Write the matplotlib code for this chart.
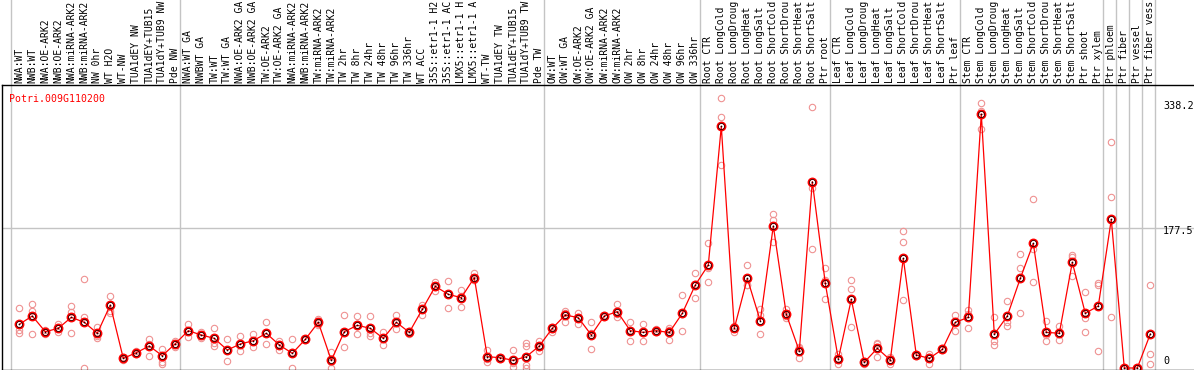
import matplotlib
matplotlib.use("Agg")
import matplotlib.pyplot as plt

gene = "Potri.009G110200"

labels = [
    "NWA:WT", "NWB:WT", "NWA:OE-ARK2", "NWB:OE-ARK2", "NWA:miRNA-ARK2", "NWB:miRNA-ARK2",
    "NW 0hr", "WT H2O", "WT-NW", "TUA1dEY NW", "TUA1dEY+TUB15", "TUA1dY+TUB9 NW", "Pde NW",
    "NWA:WT GA", "NWBWT GA", "TW:WT", "TW:WT GA", "NWA:OE-ARK2 GA", "NWB:OE-ARK2 GA",
    "TW:OE-ARK2", "TW:OE-ARK2 GA", "NWA:miRNA-ARK2", "NWB:miRNA-ARK2", "TW:miRNA-ARK2",
    "TW:miRNA-ARK2", "TW 2hr", "TW 8hr", "TW 24hr", "TW 48hr", "TW 96hr", "TW 336hr",
    "WT ACC", "35S::etr1-1 H2", "35S::etr1-1 AC", "LMX5::etr1-1 H", "LMX5::etr1-1 A",
    "WT-TW", "TUA1dEY TW", "TUA1dEY+TUB15", "TUA1dY+TUB9 TW", "Pde TW",
    "OW:WT", "OW:WT GA", "OW:OE-ARK2", "OW:OE-ARK2 GA", "OW:miRNA-ARK2", "OW:miRNA-ARK2",
    "OW 2hr", "OW 8hr", "OW 24hr", "OW 48hr", "OW 96hr", "OW 336hr",
    "Root CTR", "Root LongCold", "Root LongDroug", "Root LongHeat", "Root LongSalt",
    "Root ShortCold", "Root ShortDrou", "Root ShortHeat", "Root ShortSalt", "Ptr root",
    "Leaf CTR", "Leaf LongCold", "Leaf LongDroug", "Leaf LongHeat", "Leaf LongSalt",
    "Leaf ShortCold", "Leaf ShortDrou", "Leaf ShortHeat", "Leaf ShortSalt", "Ptr leaf",
    "Stem CTR", "Stem LongCold", "Stem LongDroug", "Stem LongHeat", "Stem LongSalt",
    "Stem ShortCold", "Stem ShortDrou", "Stem ShortHeat", "Stem ShortSalt", "Ptr shoot",
    "Ptr xylem", "Ptr phloem", "Ptr fiber", "Ptr vessel", "Ptr fiber vess",
]

means = [
    55.4, 65.9, 46.0, 50.3, 64.2, 57.9, 44.0, 79.8, 12.2, 19.4, 27.9, 15.6, 30.8,
    47.3, 41.8, 37.6, 22.8, 30.4, 34.6, 44.0, 29.2, 18.6, 36.3, 57.9, 9.7, 46.0, 54.1,
    50.3, 37.6, 57.9, 45.2, 74.4, 103.5, 93.4, 89.1, 114.5, 14.4, 13.0, 9.7, 14.4, 27.9,
    50.3, 67.2, 63.8, 41.8, 65.9, 71.4, 47.3, 45.2, 47.3, 45.0, 69.3, 105.2,
    130.5, 306.3, 50.3, 113.6, 59.6, 180.0, 68.0, 21.5, 236.2, 107.3,
    11.4, 87.0, 7.2, 24.9, 10.1, 139.0, 16.5, 12.2, 23.6, 57.9,
    64.2, 321.9, 42.7, 65.9, 113.6, 158.0, 45.2, 44.0, 133.9, 69.3,
    78.6, 188.4, 0.0, 0.0, 43.1,
]

replicates = [
    [75.6, 48.2, 44.0], [81.1, 72.7, 43.1], [48.0, 46.0, 43.0], [55.5, 50.3, 45.0],
    [78.6, 71.4, 44.0], [112.4, 64.2, 0.0], [52.4, 41.0, 37.9], [91.3, 72.7, 70.2],
    [14.0, 12.0, 10.0], [21.0, 19.0, 18.0], [36.8, 30.0, 15.6], [23.6, 15.6, 8.0, 4.6],
    [34.2, 30.8, 27.0],
    [55.5, 47.0, 38.9], [45.6, 41.8, 38.0], [50.3, 31.3, 27.9], [36.3, 23.0, 8.9],
    [40.4, 30.0, 22.0], [43.1, 34.0, 26.2], [58.3, 44.0, 30.4], [34.6, 29.0, 22.8],
    [36.3, 20.0, 0.0], [37.0, 35.5], [61.7, 57.0, 55.0], [20.7, 8.0, 0.0],
    [67.2, 44.0, 26.2], [65.9, 54.0, 42.7], [65.9, 44.0, 41.0], [46.0, 37.0, 29.2],
    [67.2, 57.0, 49.1], [47.5, 45.0, 42.5], [79.8, 75.0, 67.2], [109.4, 103.0, 98.0],
    [110.0, 94.0, 75.6], [98.9, 91.0, 76.9], [120.8, 111.6, 111.0], [22.8, 12.0, 8.0],
    [14.0, 12.0], [22.8, 6.0, 0.8], [31.3, 28.0, 3.8, 0.0], [34.2, 27.0, 22.0],
    [52.0, 50.0, 45.0], [72.3, 70.0, 58.7], [70.2, 65.0, 55.5], [57.9, 44.0, 23.6],
    [67.0, 66.0, 64.2], [81.1, 69.0, 64.2], [58.7, 48.0, 34.6], [55.5, 45.0, 34.6],
    [49.0, 47.0, 45.5], [50.3, 48.0, 35.5], [92.5, 68.0, 46.9], [120.0, 106.0, 88.7],
    [158.0, 127.2, 108.6], [341.8, 317.7, 257.3], [53.2, 51.0, 46.0], [130.5, 105.2, 105.0],
    [74.4, 67.2, 43.1], [194.8, 187.6, 160.1], [74.8, 66.0, 62.9], [26.2, 25.0, 13.0],
    [330.4, 227.7, 150.4], [126.3, 111.6, 87.0],
    [18.2, 11.0, 4.6], [111.6, 99.7, 51.5], [9.3, 7.6, 4.6], [31.3, 30.0, 13.5],
    [13.5, 10.0, 4.6], [173.6, 159.2, 86.3], [17.7, 16.5, 15.3], [17.3, 14.5, 4.9],
    [24.9, 23.6, 22.3], [67.2, 60.0, 46.9],
    [73.5, 69.0, 50.3], [335.4, 325.8, 302.9], [64.2, 34.2, 29.2], [84.9, 57.9, 53.5],
    [144.1, 127.2, 69.3], [213.8, 150.4, 109.4], [59.6, 42.0, 34.2], [53.2, 43.0, 35.5],
    [143.3, 141.0, 117.1], [95.9, 62.9, 46.0],
    [108.2, 105.2, 22.0], [286.0, 216.3, 64.2], [0.0, 0.0, 0.0], [0.0, 0.0, 0.0],
    [105.2, 18.2, 4.6],
]

group_starts = [0, 13, 41, 53, 63, 73, 84, 85, 86, 87, 88]
axis_values = ["338.2", "177.5", "0"]
grid_value = 177.5

W, H = 1194, 370
fig = plt.figure(figsize=(W / 100, H / 100), dpi=100)

left_px, right_px = 1.5, 1194.0
top_px, bot_px = 85.0, 369.5
ax = fig.add_axes([left_px / W, 1 - bot_px / H, (right_px - left_px) / W, (bot_px - top_px) / H])

x0_px, step_px = 19.3, 13.0
zero_px, scale = 368.0, 0.789
ax.set_xlim((left_px - x0_px) / step_px, (right_px - x0_px) / step_px)
ax.set_ylim(-(bot_px - zero_px) / scale, (zero_px - top_px) / scale)

for s in ["left", "top", "bottom"]:
    ax.spines[s].set_linewidth(1.0)
    ax.spines[s].set_color("black")
ax.spines["right"].set_visible(False)
ax.set_xticks([])
ax.set_yticks([])

gray = "#c4c4c4"
ax.axhline(grid_value, color=gray, lw=1.0, zorder=1)
offset = 8.0 / 13.0
trans = ax.get_xaxis_transform()
ytop_axes = bot_px / (bot_px - top_px)
for g in group_starts:
    ax.plot([g - offset, g - offset], [0, ytop_axes], color=gray, lw=1.0,
            transform=trans, clip_on=False, zorder=1)

xs = list(range(len(labels)))
for i, reps in enumerate(replicates):
    ax.plot([i] * len(reps), reps, linestyle="none", marker="o", ms=4.6,
            mfc="none", mec="#ef9292", mew=0.8, zorder=2)

ax.plot(xs, means, color="red", lw=0.9, zorder=3)
ax.plot(xs, means, linestyle="none", marker="o", ms=5.6, mfc="none", mec="red",
        mew=1.5, zorder=4)
ax.plot(xs, means, linestyle="none", marker="o", ms=4.4, mfc="none", mec="#300000",
        mew=0.6, zorder=5)
ax.plot(xs, means, linestyle="none", marker="o", ms=1.2, mfc="#200000", mec="none",
        zorder=5)

label_y = (bot_px - 83.0) / (bot_px - top_px)
for i, lab in enumerate(labels):
    ax.text(i, label_y, lab, rotation=90, ha="center", va="bottom", transform=trans,
            fontsize=7, family="DejaVu Sans Mono", color="black")

fig.text(9.5 / W, 1 - 101.5 / H, gene, color="red", fontsize=7.1,
         family="DejaVu Sans Mono", ha="left", va="baseline")

for txt, ytop in zip(axis_values, [101.0, 226.5, 356.0]):
    fig.text(1163.0 / W, 1 - ytop / H, txt, color="black", fontsize=7.3,
             family="DejaVu Sans Mono", ha="left", va="top")

fig.savefig("out.png", dpi=100)
